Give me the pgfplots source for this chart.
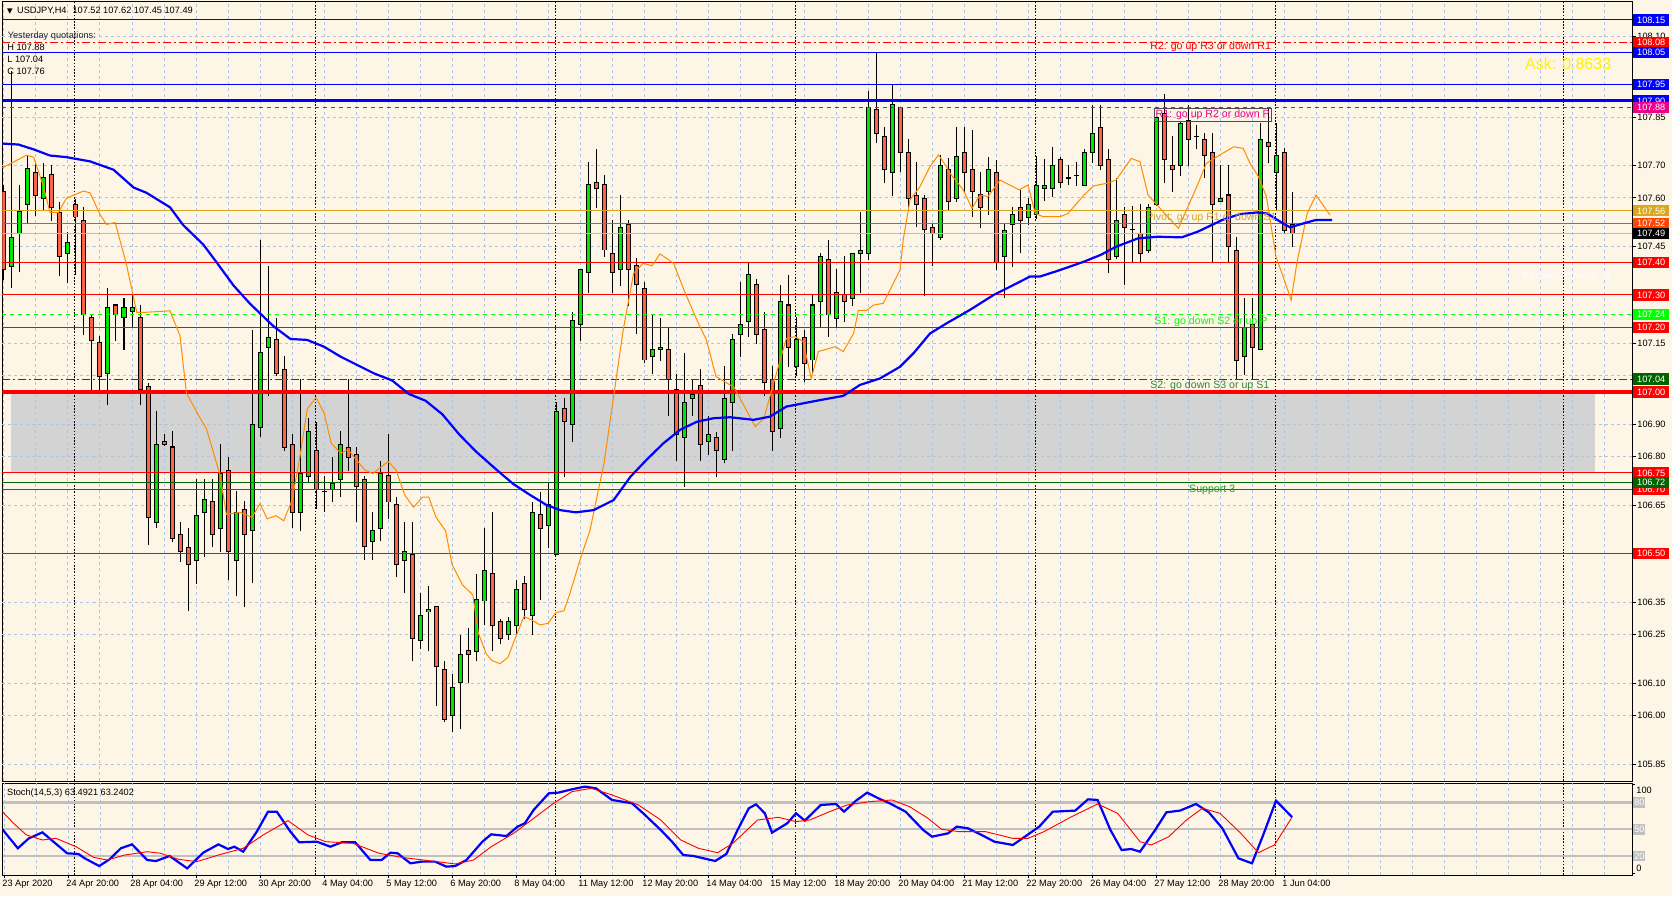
\documentclass[border=0pt]{standalone}
\usepackage{pgfplots}
\pgfplotsset{compat=1.18}
\usepackage{pgfplotstable}
\usepackage{fontspec}
\setmainfont{Liberation Sans}
\newfontfamily\dejavu{DejaVu Sans}
\newcommand\fsA{\fontsize{4.6pt}{5.5pt}\selectfont}
\newcommand\fsB{\fontsize{5.3pt}{6pt}\selectfont}
\definecolor{bg}{HTML}{FDF5E6}
\definecolor{gridc}{HTML}{B0C4DE}
\definecolor{bull}{HTML}{00E600}
\definecolor{bear}{HTML}{FF6347}
\definecolor{gold}{HTML}{DAA520}
\definecolor{ored}{HTML}{FF4500}
\definecolor{dgreen}{HTML}{006400}
\definecolor{lime}{HTML}{00FF00}
\definecolor{silv}{HTML}{C0C0C0}
\definecolor{orng}{HTML}{FF8C00}
\definecolor{bidc}{HTML}{B4BCCB}
\definecolor{zone}{HTML}{D3D3D3}
\definecolor{sgreen}{HTML}{2E8B2E}
\definecolor{sup}{HTML}{22A022}

\pgfplotstableread{
i o h l c
0 107.621 107.640 107.345 107.378
1 107.389 107.993 107.320 107.478
2 107.491 107.640 107.370 107.557
3 107.579 107.732 107.518 107.690
4 107.680 107.709 107.544 107.608
5 107.599 107.709 107.563 107.662
6 107.671 107.702 107.530 107.571
7 107.555 107.588 107.359 107.419
8 107.428 107.494 107.337 107.461
9 107.580 107.596 107.362 107.541
10 107.531 107.571 107.176 107.240
11 107.229 107.240 107.006 107.160
12 107.152 107.174 107.003 107.047
13 107.058 107.323 106.959 107.260
14 107.269 107.269 107.157 107.240
15 107.229 107.290 107.130 107.260
16 107.249 107.306 107.202 107.260
17 107.229 107.268 106.959 107.008
18 107.017 107.028 106.528 106.611
19 106.598 106.940 106.580 106.837
20 106.846 106.870 106.832 106.837
21 106.830 106.878 106.536 106.547
22 106.559 106.598 106.476 106.506
23 106.520 106.580 106.323 106.467
24 106.479 106.732 106.407 106.619
25 106.628 106.732 106.490 106.668
26 106.661 106.730 106.520 106.559
27 106.578 106.840 106.506 106.749
28 106.758 106.799 106.418 106.506
29 106.478 106.694 106.368 106.628
30 106.637 106.664 106.335 106.559
31 106.571 107.192 106.409 106.900
32 106.889 107.469 106.860 107.121
33 107.138 107.391 106.989 107.169
34 107.161 107.229 107.049 107.057
35 107.070 107.112 106.818 106.829
36 106.839 106.871 106.579 106.628
37 106.628 107.041 106.569 106.748
38 106.740 106.919 106.719 106.879
39 106.820 106.908 106.639 106.699
40 106.691 106.740 106.628 106.693
41 106.699 106.799 106.660 106.717
42 106.730 106.879 106.677 106.839
43 106.829 107.041 106.757 106.798
44 106.808 106.830 106.597 106.709
45 106.731 106.741 106.480 106.521
46 106.538 106.630 106.480 106.571
47 106.579 106.788 106.538 106.748
48 106.741 106.871 106.607 106.660
49 106.651 106.677 106.428 106.467
50 106.480 106.599 106.378 106.508
51 106.498 106.599 106.167 106.239
52 106.232 106.380 106.207 106.310
53 106.320 106.401 106.198 106.328
54 106.338 106.338 106.028 106.151
55 106.141 106.169 105.979 105.989
56 105.999 106.129 105.950 106.087
57 106.101 106.249 105.958 106.190
58 106.200 106.271 106.099 106.190
59 106.198 106.437 106.167 106.360
60 106.354 106.579 106.279 106.449
61 106.439 106.628 106.200 106.278
62 106.290 106.297 106.220 106.239
63 106.249 106.305 106.235 106.290
64 106.278 106.419 106.249 106.390
65 106.409 106.431 106.297 106.328
66 106.309 106.661 106.249 106.628
67 106.620 106.692 106.357 106.579
68 106.587 106.718 106.517 106.651
69 106.498 106.970 106.498 106.939
70 106.950 106.981 106.738 106.908
71 106.900 107.248 106.847 107.220
72 107.209 107.379 107.159 107.379
73 107.370 107.710 107.307 107.640
74 107.648 107.751 107.570 107.630
75 107.640 107.671 107.418 107.439
76 107.429 107.532 107.307 107.370
77 107.379 107.609 107.328 107.509
78 107.518 107.532 107.267 107.379
79 107.390 107.413 107.179 107.331
80 107.321 107.339 107.089 107.099
81 107.109 107.240 107.056 107.130
82 107.130 107.228 107.097 107.138
83 107.130 107.197 106.927 107.039
84 107.008 107.056 106.787 106.869
85 106.860 107.120 106.707 106.968
86 106.981 107.039 106.927 106.991
87 107.019 107.070 106.787 106.838
88 106.847 106.927 106.805 106.870
89 106.860 106.877 106.738 106.819
90 106.790 107.080 106.780 106.981
91 106.968 107.179 106.819 107.161
92 107.178 107.339 107.109 107.209
93 107.218 107.400 107.171 107.362
94 107.331 107.349 107.149 107.178
95 107.192 107.248 106.989 107.030
96 107.039 107.081 106.819 106.878
97 106.888 107.331 106.859 107.281
98 107.269 107.362 107.078 107.138
99 107.078 107.231 107.050 107.161
100 107.169 107.192 107.030 107.089
101 107.099 107.300 107.058 107.269
102 107.279 107.431 107.202 107.420
103 107.411 107.470 107.169 107.240
104 107.228 107.380 107.202 107.308
105 107.300 107.420 107.217 107.281
106 107.290 107.429 107.267 107.429
107 107.429 107.558 107.305 107.437
108 107.429 107.931 107.408 107.879
109 107.872 108.050 107.769 107.800
110 107.789 107.818 107.647 107.688
111 107.679 107.949 107.607 107.889
112 107.879 107.879 107.679 107.741
113 107.741 107.782 107.570 107.599
114 107.607 107.710 107.509 107.581
115 107.599 107.609 107.298 107.501
116 107.508 107.521 107.388 107.491
117 107.478 107.733 107.470 107.700
118 107.688 107.722 107.561 107.588
119 107.599 107.818 107.588 107.728
120 107.741 107.818 107.619 107.679
121 107.688 107.810 107.540 107.619
122 107.609 107.681 107.508 107.571
123 107.619 107.727 107.547 107.688
124 107.679 107.717 107.377 107.401
125 107.418 107.519 107.290 107.499
126 107.518 107.573 107.387 107.549
127 107.571 107.624 107.429 107.530
128 107.540 107.599 107.516 107.580
129 107.549 107.730 107.534 107.639
130 107.630 107.720 107.592 107.639
131 107.630 107.758 107.604 107.700
132 107.719 107.727 107.630 107.648
133 107.660 107.702 107.640 107.662
134 107.668 107.712 107.637 107.670
135 107.639 107.750 107.637 107.741
136 107.741 107.887 107.709 107.800
137 107.818 107.887 107.686 107.700
138 107.720 107.750 107.369 107.410
139 107.420 107.663 107.410 107.530
140 107.550 107.573 107.331 107.509
141 107.501 107.575 107.403 107.503
142 107.490 107.581 107.403 107.429
143 107.437 107.581 107.429 107.571
144 107.581 107.851 107.575 107.849
145 107.861 107.921 107.647 107.719
146 107.700 107.791 107.619 107.688
147 107.700 107.839 107.668 107.831
148 107.839 107.887 107.700 107.781
149 107.789 107.825 107.750 107.791
150 107.781 107.802 107.663 107.730
151 107.741 107.802 107.403 107.581
152 107.588 107.702 107.588 107.599
153 107.609 107.702 107.403 107.449
154 107.437 107.480 107.040 107.097
155 107.109 107.290 107.052 107.200
156 107.210 107.290 107.040 107.137
157 107.130 107.831 107.130 107.781
158 107.771 107.880 107.709 107.758
159 107.679 107.831 107.563 107.730
160 107.741 107.753 107.490 107.499
161 107.518 107.619 107.449 107.490
}\candles

\pgfplotstableread{
x y
-0.2 107.768
1.8 107.765
3.7 107.750
5.75 107.731
7.8 107.726
10.75 107.713
13.7 107.687
16.2 107.632
17.8 107.616
20.75 107.571
22.4 107.516
24.9 107.456
26.6 107.400
28.7 107.329
30.75 107.273
33.7 107.203
35.8 107.164
37.9 107.161
40 107.140
42.1 107.109
44.2 107.083
46.3 107.057
48.5 107.036
50.6 106.994
52.7 106.973
54.8 106.931
56.9 106.869
59 106.816
61.6 106.759
63.7 106.715
65.75 106.682
67.8 106.651
69.5 106.635
71.5 106.628
73.7 106.635
76.2 106.666
78.3 106.738
80.3 106.790
82.4 106.841
84.5 106.883
86.6 106.908
88.7 106.919
90.75 106.922
93.7 106.914
95.75 106.924
97.8 106.955
99.9 106.965
102 106.975
104.9 106.988
107 107.022
109.5 107.042
112 107.078
113.7 107.120
115.75 107.181
117.8 107.212
120.75 107.254
123.7 107.300
126.6 107.336
128.25 107.357
129.5 107.357
132 107.377
135 107.403
137.1 107.424
139 107.449
141.75 107.475
144.25 107.480
147.2 107.478
149.25 107.496
152.3 107.532
154.5 107.550
156.6 107.555
157.9 107.552
159.5 107.527
160.75 107.509
162.4 107.521
164 107.532
166 107.532
}\mablue

\pgfplotstableread{
x y
-0.2 107.693
2.8 107.732
3.7 107.726
4.9 107.638
5.75 107.555
6.8 107.555
7.8 107.599
9.9 107.621
10.75 107.616
12 107.549
12.8 107.518
13.9 107.524
15.3 107.395
16.6 107.246
17.4 107.246
20.75 107.251
22 107.174
22.8 106.997
24.5 106.920
25.3 106.887
27 106.743
27.8 106.622
29.5 106.628
31 106.613
32 106.655
32.9 106.608
34 106.618
34.96 106.602
36 106.665
37 106.801
37.9 106.947
39 106.983
40 106.936
40.9 106.842
42.1 106.811
43 106.822
45.1 106.759
46.1 106.748
48 106.785
49 106.759
50.1 106.681
51.2 106.644
52.3 106.675
53.1 106.675
54 106.613
55.2 106.571
56 106.467
57.3 106.404
58.6 106.373
59.3 106.254
60.3 106.190
61 106.170
62 106.160
63 106.180
63.9 106.239
65 106.306
66 106.295
67 106.280
68 106.285
69 106.318
70 106.324
70.75 106.378
72 106.481
73.25 106.573
75 106.780
76.2 106.986
77.4 107.192
78.7 107.367
79.9 107.398
81 107.390
82 107.427
83.7 107.398
85 107.315
86.6 107.223
87.8 107.161
89 107.048
90.75 107.022
91.2 107.017
92.8 106.944
93.9 106.893
95 106.919
96.2 107.027
97.8 107.166
98.9 107.171
99.9 107.156
100.9 107.042
101.8 107.125
103.9 107.140
104.9 107.125
106.2 107.181
106.8 107.252
107.8 107.252
108.7 107.269
109.9 107.274
110.75 107.315
112 107.377
112.4 107.470
113.25 107.594
114.5 107.635
115.75 107.697
116.8 107.733
117.8 107.697
118.25 107.676
119.9 107.625
121 107.568
122 107.609
123 107.604
124.5 107.655
126.9 107.625
128 107.640
128.9 107.552
129.9 107.542
132 107.542
133 107.552
135 107.609
136.2 107.637
137.8 107.645
139 107.655
140.9 107.722
142 107.712
143 107.609
144.9 107.557
146.8 107.506
149.1 107.635
150.3 107.707
152 107.733
153.7 107.758
154.9 107.753
155.75 107.707
156.8 107.666
157.8 107.604
159 107.418
159.9 107.356
160.9 107.284
161.6 107.398
162.9 107.552
164 107.609
165.75 107.547
}\maorange

\pgfplotstableread{
x y
-0.2 49.8
1.73 28.6
3.1 39.7
4.8 46.4
7.9 23.0
9.3 22.3
10.1 17.4
11.9 8.8
13.2 16.3
14.6 28.6
16 33.0
17.9 15.5
19 14.4
20.7 20.0
22.9 6.2
24.9 23.7
26.8 33.0
28 27.8
28.8 30.4
29.9 24.8
31.6 47.2
33 69.5
34.1 69.5
35.8 47.2
36.9 35.3
39.1 36.0
40.8 30.4
42.2 35.3
43.9 35.3
45.8 15.5
47.2 15.5
48.3 23.7
49.2 23.0
50.8 11.8
52.2 13.7
53.9 13.7
55.3 8.1
56.4 8.8
57.8 15.5
59.8 36.0
60.9 44.2
62.8 42.3
64.2 52.8
65.1 56.5
66.2 71.4
68.1 90.0
69.3 90.8
71 94.5
72.6 97.5
74 95.6
76 82.6
78.5 78.9
79.9 67.7
82.1 49.0
83.5 36.0
84.9 21.1
86.2 20.0
88.9 14.4
90.3 22.3
91.7 49.1
93.1 73.3
94 77.7
95.1 67.7
96 46.1
97.9 56.5
99 67.7
100.1 59.5
102.1 77.0
104 78.1
105 69.5
106.5 81.8
107.9 90.8
109.3 84.4
110.7 78.9
112.7 69.5
114.9 49.1
116 41.6
118 45.3
119.1 52.8
120.5 50.9
122.2 43.5
123.8 36.0
126.1 32.3
127.5 40.9
129.4 52.8
131.1 69.5
133.9 70.7
135.5 83.3
136.7 82.6
138.3 49.1
139.7 26.7
140.9 27.8
142 24.8
143.9 49.1
145.3 68.8
147 70.7
149 78.1
150.6 68.8
152.3 50.9
154.3 17.4
156 11.8
157.4 43.5
159 81.8
161 63.5
}\stk

\pgfplotstableread{
x y
-0.2 69.5
1.2 56.5
2.8 43.5
4.8 37.9
6.5 39.7
9 30.4
11.2 18.5
12.9 15.5
15.1 21.1
17.9 24.8
19.6 23.0
21.8 16.3
24.1 13.7
26.8 21.1
29.9 28.6
32.4 43.5
35.5 59.5
38 43.5
40.2 36.0
43.6 34.2
46.9 23.0
49.7 18.5
53.1 14.8
56.4 11.1
58.7 15.5
60.9 30.4
63.7 45.3
66.5 64.0
68.7 78.9
71 91.9
73.4 95.6
76 88.2
79.3 77.0
82.1 60.2
84.6 37.9
86.8 28.6
89.2 23.7
91.1 34.2
94.2 60.2
96.8 63.2
99 58.4
100.7 60.2
103.2 69.5
105.4 77.0
108.2 80.7
111 82.6
113.2 75.1
115.5 62.1
117.2 49.8
119.4 47.2
122.7 47.2
126.1 39.7
128 39.7
130 47.2
133.3 63.2
136.7 78.1
139.2 67.7
142 36.0
143.4 32.3
145.6 41.6
147.8 60.2
149.8 73.3
152 67.7
154.6 45.3
156.8 23.7
158.8 32.3
161 63.2
}\std

\newcommand\pbox[3]{\node[fill=#2,text=#3,anchor=west,minimum width=17.8pt,minimum height=5.6pt,inner sep=0pt,font=\fsA] at (axis cs:203.625,#1) {#1};}
\newcommand\plab[1]{\node[anchor=west,inner sep=0pt,font=\fsA] at (axis cs:204.125,#1) {#1};}
\newcommand\hl[2]{\addplot[#1] coordinates {(-0.1875,#2) (203.5,#2)};}
\newcommand\dlab[2]{\node[anchor=north west,inner sep=0pt,font=\fsA] at (axis cs:#1-0.25,-6.8) {#2};}

\pgfplotsset{mtaxis/.style={scale only axis, clip mode=individual, anchor=south west,
  xmin=-0.1875, xmax=203.5, width=814.75pt,
  axis line style={black, line width=0.5pt}, tick style={black, line width=0.5pt},
  major tick length=2pt, tick align=outside},
  candle/.style={draw=none, mark=none, error bars/.cd, y dir=plus, y explicit, error mark=none,
  error bar style={line width=#1}}}

\begin{document}
\begin{tikzpicture}
\fill[bg] (0,0) rectangle (836pt,448pt);
% ---------------- main price panel
\begin{axis}[mtaxis, at={(1.25pt,57.5pt)}, height=389.5pt,
  ymin=105.7976, ymax=108.2056, xtick=\empty,
  ytick={108.10,107.85,107.70,107.60,107.45,107.15,106.90,106.80,106.65,106.35,106.25,106.10,106.00,105.85},
  ytick pos=right, yticklabels={}]
\addplot[fill=zone, draw=none] coordinates {(0.85,106.75) (198.9,106.75) (198.9,107.0) (0.85,107.0)} -- cycle;
\pgfplotsinvokeforeach{0,4,...,200}{\draw[gridc, line width=0.5pt, dash pattern=on 1.5pt off 1.5pt] (axis cs:#1,105.7976) -- (axis cs:#1,108.2056);}
\pgfplotsinvokeforeach{108.10,107.95,107.85,107.70,107.60,107.45,107.30,107.15,107.05,106.90,106.80,106.65,106.50,106.35,106.25,106.10,106.00,105.85}{\draw[gridc, line width=0.5pt, dash pattern=on 1.5pt off 1.5pt] (axis cs:-0.1875,#1) -- (axis cs:203.5,#1);}
\pgfplotsinvokeforeach{8.85,38.9,68.9,98.9,128.9,158.9,194.9}{\draw[black, line width=0.5pt, dash pattern=on 0.8pt off 0.8pt] (axis cs:#1,105.7976) -- (axis cs:#1,108.2056);}
% candles: wicks
\addplot[candle=0.5pt, error bar style={draw=black}]
  table[x=i, y=l, y error plus expr=\thisrow{h}-\thisrow{l}] {\candles};
% body outlines
\addplot[candle=2.5pt, error bar style={draw=black}]
  table[x=i, y expr={min(\thisrow{o},\thisrow{c})-0.0015}, y error plus expr={abs(\thisrow{c}-\thisrow{o})+0.0031}] {\candles};
% bull bodies
\addplot[candle=1.5pt, error bar style={draw=bull}]
  table[x=i, y expr={min(\thisrow{o},\thisrow{c})+0.0015}, y error plus expr={max(\thisrow{c}-\thisrow{o}-0.0031,0)}] {\candles};
% bear bodies
\addplot[candle=1.5pt, error bar style={draw=bear}]
  table[x=i, y expr={min(\thisrow{o},\thisrow{c})+0.0015}, y error plus expr={max(\thisrow{o}-\thisrow{c}-0.0031,0)}] {\candles};
% level lines
\hl{blue, line width=0.5pt}{108.15}
\hl{red, line width=0.5pt, dash pattern=on 4pt off 1.5pt on 1pt off 1.5pt}{108.08}
\hl{blue, line width=0.5pt}{108.05}
\hl{blue, line width=0.5pt}{107.95}
\hl{blue, line width=1.6pt}{107.90}
\hl{magenta, line width=0.5pt, dash pattern=on 2pt off 2pt}{107.88}
\hl{gold, line width=0.5pt}{107.56}
\hl{ored, line width=0.5pt}{107.52}
\hl{bidc, line width=0.5pt}{107.49}
\hl{red, line width=0.5pt}{107.40}
\hl{red, line width=0.5pt}{107.30}
\hl{lime, line width=0.5pt, dash pattern=on 2pt off 2pt}{107.24}
\hl{red, line width=0.5pt}{107.20}
\hl{dgreen, line width=0.5pt, dash pattern=on 4pt off 1.5pt on 1pt off 1.5pt}{107.04}
\hl{red, line width=1.75pt}{107.00}
\hl{red, line width=0.5pt}{106.75}
\hl{dgreen, line width=0.5pt}{106.72}
\hl{red, line width=0.5pt}{106.70}
\hl{red, line width=0.5pt}{106.50}
% indicators
\addplot[orng, line width=0.5pt] table[x=x,y=y] {\maorange};
\addplot[blue, line width=1.1pt] table[x=x,y=y] {\mablue};
% texts
\node[anchor=west, inner sep=0pt, font=\fsA] at (axis cs:0.35,108.1778) {{\dejavu\fontsize{3.6pt}{4pt}\selectfont ▼}\hspace{2.2pt}USDJPY,H4\hspace{3pt}107.52 107.62 107.45 107.49};
\node[anchor=west, inner sep=0pt, font=\fsA, text=black!85] at (axis cs:0.42,108.1015) {Yesterday quotations:};
\node[anchor=west, inner sep=0pt, font=\fsA] at (axis cs:0.375,108.0644) {H 107.88};
\node[anchor=west, inner sep=0pt, font=\fsA] at (axis cs:0.375,108.0273) {L 107.04};
\node[anchor=west, inner sep=0pt, font=\fsA] at (axis cs:0.375,107.9902) {C 107.76};
\node[anchor=west, inner sep=0pt, font=\fsB, text=red] at (axis cs:143.25,108.0665) {R2: go up R3 or down R1};
\node[anchor=west, inner xsep=0.6pt, inner ysep=0.8pt, font=\fsB, text=magenta, draw=black!70, line width=0.4pt] at (axis cs:143.75,107.8563) {R1: go up R2 or down P};
\node[anchor=west, inner sep=0pt, font=\fsB, text=gold] at (axis cs:142.75,107.538) {Pivot: go up R1 or down S1};
\node[anchor=west, inner sep=0pt, font=\fsB, text=lime] at (axis cs:143.75,107.2165) {S1: go down S2 or up P};
\node[anchor=west, inner sep=0pt, font=\fsB, text=sgreen] at (axis cs:143.25,107.0186) {S2: go down S3 or up S1};
\node[anchor=west, inner sep=0pt, font=\fsB, text=sup] at (axis cs:148.1,106.6987) {Support 3};
\node[anchor=east, inner sep=0pt, font=\fsB, text=white] at (axis cs:200.75,107.3556) {Pending Orders: 0};
\node[anchor=west, inner sep=0pt, font=\fontsize{8pt}{9pt}\selectfont, text=yellow] at (axis cs:190.1,108.014) {Ask: 0.8633};
% right price scale
\plab{108.10}
\plab{107.85}\plab{107.70}\plab{107.60}\plab{107.45}\plab{107.15}\plab{106.90}
\plab{106.80}\plab{106.65}\plab{106.35}\plab{106.25}\plab{106.10}\plab{106.00}\plab{105.85}
\pbox{108.15}{blue}{white}
\pbox{108.08}{red}{white}
\pbox{108.05}{blue}{white}
\pbox{107.95}{blue}{white}
\pbox{107.90}{blue}{white}
\pbox{107.88}{magenta}{white}
\pbox{107.56}{gold}{white}
\pbox{107.52}{ored}{white}
\pbox{107.49}{black}{white}
\pbox{107.40}{red}{white}
\pbox{107.30}{red}{white}
\pbox{107.24}{lime}{white}
\pbox{107.20}{red}{white}
\pbox{107.04}{dgreen}{white}
\pbox{107.00}{red}{white}
\pbox{106.75}{red}{white}
\pbox{106.70}{red}{white}
\pbox{106.72}{dgreen}{white}
\pbox{106.50}{red}{white}
\end{axis}
% ---------------- stochastic panel
\begin{axis}[mtaxis, at={(1.25pt,10.5pt)}, height=45.85pt,
  ymin=-1.23, ymax=101.2, ytick={0,20,50,80,100}, ytick pos=right, yticklabels={},
  xtick={0,8,...,160}, xtick pos=bottom, xticklabels={}, major tick length=1.5pt]
\pgfplotsinvokeforeach{0,4,...,200}{\draw[gridc, line width=0.5pt, dash pattern=on 1.5pt off 1.5pt] (axis cs:#1,-1.23) -- (axis cs:#1,101.2);}
\pgfplotsinvokeforeach{8.85,38.9,68.9,98.9,128.9,158.9,194.9}{\draw[black, line width=0.5pt, dash pattern=on 0.8pt off 0.8pt] (axis cs:#1,-1.23) -- (axis cs:#1,101.2);}
\hl{silv, line width=1.3pt}{80}
\hl{silv, line width=1.3pt}{50}
\hl{silv, line width=1.3pt}{20}
\addplot[blue, line width=1.1pt] table[x=x,y=y] {\stk};
\addplot[red, line width=0.45pt] table[x=x,y=y] {\std};
\node[anchor=west, inner sep=0pt, font=\fsA] at (axis cs:0.34,90) {Stoch(14,5,3) 63.4921 63.2402};
\node[anchor=west, inner sep=0pt, font=\fsA] at (axis cs:204,93.7) {100};
\node[anchor=west, inner sep=0pt, font=\fsA] at (axis cs:204,6.3) {0};
\node[fill=silv, text=white, anchor=west, minimum width=6pt, minimum height=5.4pt, inner sep=0pt, font=\fsA] at (axis cs:203.625,80) {80};
\node[fill=silv, text=white, anchor=west, minimum width=6pt, minimum height=5.4pt, inner sep=0pt, font=\fsA] at (axis cs:203.625,50) {50};
\node[fill=silv, text=white, anchor=west, minimum width=6pt, minimum height=5.4pt, inner sep=0pt, font=\fsA] at (axis cs:203.625,20) {20};
\dlab{0}{23 Apr 2020}
\dlab{8}{24 Apr 20:00}
\dlab{16}{28 Apr 04:00}
\dlab{24}{29 Apr 12:00}
\dlab{32}{30 Apr 20:00}
\dlab{40}{4 May 04:00}
\dlab{48}{5 May 12:00}
\dlab{56}{6 May 20:00}
\dlab{64}{8 May 04:00}
\dlab{72}{11 May 12:00}
\dlab{80}{12 May 20:00}
\dlab{88}{14 May 04:00}
\dlab{96}{15 May 12:00}
\dlab{104}{18 May 20:00}
\dlab{112}{20 May 04:00}
\dlab{120}{21 May 12:00}
\dlab{128}{22 May 20:00}
\dlab{136}{26 May 04:00}
\dlab{144}{27 May 12:00}
\dlab{152}{28 May 20:00}
\dlab{160}{1 Jun 04:00}
\end{axis}
\pgfresetboundingbox
\path (0,0) rectangle (836pt,448pt);
\end{tikzpicture}
\end{document}
